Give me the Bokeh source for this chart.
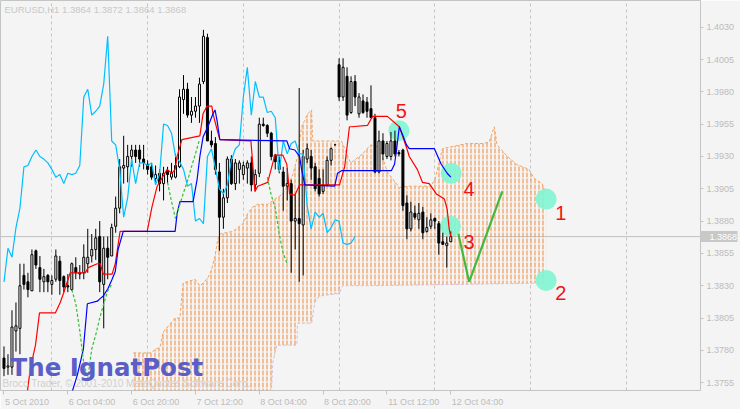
import numpy as np
from bokeh.plotting import figure
from bokeh.models import Range1d, FixedTicker, Label, Span, PrintfTickFormatter, LinearAxis
from bokeh.core.properties import value
from bokeh.embed import file_html
from bokeh.resources import INLINE

# ---------------- data (EURUSD H1, bar index 0 = 5 Oct 2010 12:00) ----------------
opens = [1.3774,1.3767,1.3767,1.3795,1.3797,1.3838,1.3833,1.3826,1.3857,1.3844,
         1.3833,1.3838,1.3831,1.3835,1.3849,1.3837,1.3830,1.3827,1.3844,1.3839,
         1.3840,1.3847,1.3853,1.3858,1.3868,1.3831,1.3859,1.3853,1.3876,1.3890,
         1.3921,1.3922,1.3930,1.3935,1.3935,1.3928,1.3924,1.3922,1.3913,1.3917,
         1.3909,1.3919,1.3914,1.3914,1.3922,1.3974,1.3982,1.3962,1.3965,1.3969,
         1.3988,1.4022,1.3942,1.3940,1.3918,1.3883,1.3898,1.3928,1.3909,1.3920,
         1.3916,1.3921,1.3925,1.3908,1.3917,1.3955,1.3954,1.3948,1.3931,1.3927,
         1.3918,1.3907,1.3909,1.3880,1.3882,1.3877,1.3928,1.3930,1.3922,1.3913,
         1.3903,1.3908,1.3927,1.3939,1.4001,1.3976,1.3992,1.3964,1.3988,1.3963,
         1.3973,1.3972,1.3967,1.3960,1.3918,1.3942,1.3930,1.3930,1.3942,1.3933,
         1.3935,1.3894,1.3874,1.3886,1.3881,1.3887,1.3872,1.3876,1.3882,1.3878,
         1.3864,1.3861,1.3864]
highs = [1.3783,1.3777,1.3811,1.3817,1.3847,1.3847,1.3840,1.3858,1.3858,1.3853,
         1.3843,1.3839,1.3838,1.3858,1.3853,1.3838,1.3839,1.3848,1.3852,1.3846,
         1.3862,1.3874,1.3870,1.3874,1.3880,1.3868,1.3868,1.3878,1.3899,1.3928,
         1.3946,1.3939,1.3939,1.3939,1.3939,1.3939,1.3927,1.3925,1.3923,1.3920,
         1.3922,1.3922,1.3925,1.3932,1.3982,1.3993,1.3987,1.3976,1.3976,1.3991,
         1.4028,1.4025,1.3950,1.3945,1.3925,1.3905,1.3930,1.3931,1.3928,1.3927,
         1.3926,1.3927,1.3930,1.3920,1.3960,1.3960,1.3955,1.3949,1.3932,1.3930,
         1.3922,1.3921,1.3912,1.3901,1.3983,1.3935,1.3940,1.3935,1.3925,1.3920,
         1.3920,1.3930,1.3937,1.3939,1.4006,1.4006,1.3999,1.3992,1.3993,1.3979,
         1.3978,1.3976,1.3985,1.3963,1.3950,1.3948,1.3942,1.3949,1.3950,1.3935,
         1.3936,1.3900,1.3895,1.3892,1.3894,1.3891,1.3883,1.3886,1.3883,1.3880,
         1.3871,1.3868,1.3872]
lows = [1.3760,1.3761,1.3761,1.3779,1.3777,1.3827,1.3821,1.3826,1.3843,1.3825,
        1.3825,1.3825,1.3823,1.3833,1.3823,1.3825,1.3825,1.3826,1.3835,1.3835,
        1.3835,1.3840,1.3848,1.3850,1.3825,1.3797,1.3835,1.3853,1.3871,1.3886,
        1.3909,1.3910,1.3922,1.3925,1.3922,1.3920,1.3916,1.3912,1.3910,1.3903,
        1.3896,1.3909,1.3912,1.3913,1.3921,1.3963,1.3960,1.3956,1.3960,1.3956,
        1.3986,1.3942,1.3937,1.3916,1.3857,1.3874,1.3894,1.3908,1.3904,1.3909,
        1.3912,1.3909,1.3903,1.3903,1.3914,1.3953,1.3945,1.3927,1.3920,1.3917,
        1.3888,1.3896,1.3840,1.3858,1.3833,1.3838,1.3925,1.3912,1.3903,1.3899,
        1.3901,1.3907,1.3923,1.3939,1.3973,1.3973,1.3958,1.3963,1.3969,1.3960,
        1.3963,1.3960,1.3960,1.3917,1.3917,1.3927,1.3928,1.3927,1.3930,1.3930,
        1.3888,1.3866,1.3872,1.3881,1.3874,1.3866,1.3871,1.3874,1.3874,1.3854,
        1.3862,1.3844,1.3864]
closes = [1.3766,1.3768,1.3798,1.3799,1.3830,1.3831,1.3827,1.3854,1.3846,1.3835,
          1.3837,1.3833,1.3834,1.3853,1.3834,1.3829,1.3829,1.3847,1.3840,1.3840,
          1.3852,1.3852,1.3858,1.3867,1.3833,1.3859,1.3852,1.3875,1.3890,1.3922,
          1.3923,1.3930,1.3935,1.3930,1.3928,1.3925,1.3920,1.3914,1.3916,1.3909,
          1.3917,1.3916,1.3917,1.3923,1.3976,1.3982,1.3962,1.3965,1.3969,1.3986,
          1.4023,1.3942,1.3939,1.3920,1.3883,1.3898,1.3928,1.3909,1.3925,1.3925,
          1.3923,1.3925,1.3908,1.3916,1.3955,1.3954,1.3948,1.3930,1.3926,1.3920,
          1.3907,1.3909,1.3880,1.3882,1.3878,1.3930,1.3936,1.3921,1.3905,1.3901,
          1.3908,1.3927,1.3936,1.3939,1.3976,1.3999,1.3962,1.3988,1.3976,1.3976,
          1.3964,1.3965,1.3960,1.3918,1.3942,1.3932,1.3940,1.3942,1.3932,1.3932,
          1.3892,1.3874,1.3887,1.3883,1.3886,1.3871,1.3875,1.3881,1.3880,1.3863,
          1.3862,1.3863,1.3868]

chikou_shift = 24

# Tenkan-sen (red) read as (bar, price) points
tenkan_x = [5.9,6.6,7.9,8.9,12.9,14.1,14.9,16.6,20.4,21.1,23.4,24.1,24.9,27.1,27.9,29.1,35.9,37.1,38.4,
            40.9,42.1,42.9,43.4,44.6,49.1,49.9,50.9,52.1,52.4,53.4,54.1,61.9,62.9,63.6,66.1,67.9,69.9,
            70.9,71.6,72.9,74.1,84.1,85.4,86.6,87.1,91.1,92.4,96.1,99.1,100.9,101.6,103.6,104.9,106.6,
            108.4,110.4,111.1,111.6,112.0]
tenkan_y = [1.3749,1.3766,1.3784,1.3809,1.3809,1.3817,1.3824,1.3840,1.3840,1.3844,1.3847,1.3847,1.3839,
            1.3839,1.3847,1.3872,1.3872,1.3891,1.3907,1.3920,1.3917,1.3920,1.3930,1.3943,1.3946,1.3963,
            1.3969,1.3969,1.3963,1.3951,1.3943,1.3942,1.3903,1.3907,1.3910,1.3931,1.3931,1.3924,1.3901,
            1.3900,1.3908,1.3908,1.3922,1.3953,1.3953,1.3954,1.3961,1.3961,1.3953,1.3937,1.3930,1.3920,
            1.3910,1.3909,1.3901,1.3897,1.3889,1.3874,1.3868]

# Kijun-sen (blue)
kijun_x = [17.1,18.4,19.9,20.9,23.4,24.1,24.9,26.1,27.1,27.9,28.6,29.9,42.9,43.4,44.1,47.4,48.4,49.1,
           49.9,51.1,52.4,52.9,53.4,54.1,70.9,71.6,72.9,74.1,74.6,75.4,82.9,83.6,84.6,97.1,97.9,98.4,
           99.1,99.9,100.9,101.6,107.9,109.6,111.1,112.0]
kijun_y = [1.3748,1.3761,1.3781,1.3816,1.3818,1.3820,1.3822,1.3828,1.3835,1.3841,1.3858,1.3872,1.3872,
           1.3886,1.3895,1.3895,1.3912,1.3930,1.3945,1.3953,1.3963,1.3966,1.3958,1.3943,1.3942,1.3936,
           1.3935,1.3930,1.3920,1.3908,1.3907,1.3917,1.3919,1.3919,1.3924,1.3935,1.3953,1.3947,1.3939,
           1.3936,1.3936,1.3924,1.3917,1.3914]

# Senkou span A (sandy brown) and span B (thistle), shifted forward
span_a_x = [32.4,37.1,37.9,39.1,39.9,42.9,44.1,44.9,47.9,49.1,49.9,51.1,52.1,52.9,53.6,54.1,57.4,59.9,
            61.1,62.4,63.6,66.1,67.9,69.9,71.6,72.4,73.6,74.6,75.4,76.1,77.1,77.4,84.6,86.9,89.9,91.9,
            94.1,96.1,99.1,101.1,107.1,108.1,109.9,115.9,119.9,121.6,122.9,123.6,125.9,128.4,131.6,
            132.9,134.9,135.9]
span_a_y = [1.3778,1.3778,1.3781,1.3782,1.3794,1.3805,1.3805,1.3832,1.3835,1.3830,1.3832,1.3836,1.3843,
            1.3853,1.3866,1.3870,1.3872,1.3878,1.3886,1.3891,1.3893,1.3893,1.3897,1.3901,1.3910,1.3916,
            1.3930,1.3953,1.3958,1.3963,1.3966,1.3942,1.3942,1.3925,1.3932,1.3939,1.3937,1.3918,1.3906,
            1.3907,1.3907,1.3913,1.3936,1.3940,1.3940,1.3941,1.3953,1.3939,1.3931,1.3924,1.3920,1.3913,
            1.3909,1.3901]
span_b_x = [32.4,66.5,67.1,67.4,68.4,73.4,73.6,77.1,77.9,79.1,84.1,84.9,91.1,135.9]
span_b_y = [1.3740,1.3740,1.3752,1.3771,1.3784,1.3784,1.3801,1.3801,1.3817,1.3822,1.3824,1.3830,1.3830,
            1.3832]

# green dashed helper lines
green_dash_x = [[17,18,19,20,21,22,23,24,25,26,27],
                [41,42,43,44,45,46,47,48,49],
                [66,67,68,69,70,71]]
green_dash_y = [[1.3827,1.3816,1.3795,1.3770,1.3758,1.3781,1.3792,1.3805,1.3816,1.3826,1.3831],
                [1.3910,1.3895,1.3882,1.3892,1.3902,1.3911,1.3922,1.3932,1.3943],
                [1.3914,1.3900,1.3890,1.3870,1.3855,1.3847]]

# green forecast "V"
forecast_x = [113.9, 116.6, 124.9]
forecast_y = [1.3870, 1.3833, 1.3903]

# marked points and their numbers
mark_x = [99.0, 112.1, 111.9, 135.9, 135.9]
mark_y = [1.3950, 1.3917, 1.3876, 1.3897, 1.3834]
num_x = [99.6, 116.6, 116.6, 139.6, 139.6]
num_y = [1.3965, 1.3905, 1.3864, 1.3886, 1.3824]
num_text = ["5", "4", "3", "1", "2"]

day_grid = [12, 36, 60, 84, 108, 132, 156]
time_ticks = [0, 16, 32, 48, 64, 80, 96, 112]
time_labels = ["5 Oct 2010", "6 Oct 04:00", "6 Oct 20:00", "7 Oct 12:00",
               "8 Oct 04:00", "8 Oct 20:00", "11 Oct 12:00", "12 Oct 04:00"]
price_ticks = [1.3755, 1.3780, 1.3805, 1.3830, 1.3855, 1.3880, 1.3905, 1.3930,
               1.3955, 1.3980, 1.4005, 1.4030]

# ---------------- figure ----------------
BG = "#f4f4f4"
GRAY = "#c4c4c4"
TXT = "#bcbcbc"
FONT = "Liberation Sans"
W, H = 740, 409
RIGHT, BOTTOM = 40, 17
X0, X1 = -0.875, 174.6
last = closes[-1]
BOX_OUT = 37          # length of the grey price box
LABEL_GAP = 6         # distance of the price labels from the chart border

p = figure(width=W, height=H,
           x_range=Range1d(X0, X1), y_range=Range1d(1.37489, 1.40507),
           output_backend="svg", toolbar_location=None,
           x_axis_location="below", y_axis_location="right",
           min_border_left=0, min_border_top=0, min_border_right=RIGHT, min_border_bottom=BOTTOM,
           background_fill_color=BG, border_fill_color=BG,
           outline_line_color=GRAY, outline_line_width=1)

p.ygrid.visible = False
p.xgrid.ticker = FixedTicker(ticks=day_grid)
p.xgrid.grid_line_color = GRAY
p.xgrid.grid_line_dash = "3 3"

ya = p.yaxis[0]
ya.ticker = FixedTicker(ticks=price_ticks, minor_ticks=[last])
ya.formatter = PrintfTickFormatter(format="%.4f")
ya.axis_line_color = None
ya.axis_label_standoff = 0
ya.major_tick_line_color = GRAY
ya.major_tick_out = 3
ya.major_tick_in = 0
# the minor tick is drawn as the grey price box
ya.minor_tick_line_color = "#c8c8c8"
ya.minor_tick_line_width = 11
ya.minor_tick_out = BOX_OUT
ya.minor_tick_in = 0
ya.major_label_text_color = TXT
ya.major_label_text_font = FONT
ya.major_label_text_font_size = "9px"
ya.major_label_standoff = LABEL_GAP - BOX_OUT

# white price text on the box
ya2 = LinearAxis(ticker=FixedTicker(ticks=[last]), formatter=PrintfTickFormatter(format="%.4f"),
                 axis_line_color=None, major_tick_line_color=None, minor_tick_line_color=None,
                 major_tick_out=0, major_tick_in=0, major_label_standoff=-28,
                 major_label_text_color="white", major_label_text_font=FONT,
                 major_label_text_font_size="9px", axis_label_standoff=0)
p.add_layout(ya2, "right")

# bottom axis: tick marks (minor ticks) at the bar times, labels start at their tick
cw = {" ": 0.278, ":": 0.278, "O": 0.778, "c": 0.5, "t": 0.278}
px_per_bar = (W - RIGHT) / (X1 - X0)
label_w = [sum(cw.get(ch, 0.556) for ch in s) * 9 for s in time_labels]
label_pos = [round(t + (w / 2 + 1) / px_per_bar, 2) for t, w in zip(time_ticks, label_w)]
xa = p.xaxis[0]
xa.ticker = FixedTicker(ticks=label_pos, minor_ticks=time_ticks)
xa.major_label_overrides = {lp: s for lp, s in zip(label_pos, time_labels)}
xa.axis_line_color = None
xa.axis_label_standoff = 0
xa.major_tick_line_color = None
xa.major_tick_out = 4
xa.major_tick_in = 0
xa.minor_tick_line_color = GRAY
xa.minor_tick_out = 4
xa.minor_tick_in = 0
xa.major_label_standoff = 2
xa.major_label_text_color = TXT
xa.major_label_text_font = FONT
xa.major_label_text_font_size = "9px"

# current price line
p.add_layout(Span(location=last, dimension="width", line_color="#c0c0c0",
                  line_width=1, level="underlay"))

# cloud hatch (vertical dashed look)
cloud_x = span_a_x + span_b_x[::-1]
cloud_y = span_a_y + span_b_y[::-1]
p.patch(cloud_x, cloud_y, fill_alpha=0, line_alpha=0,
        hatch_pattern="|", hatch_scale=4, hatch_weight=1.2, hatch_color="#ee9a58", hatch_alpha=1.0)
p.patch(cloud_x, cloud_y, fill_alpha=0, line_alpha=0,
        hatch_pattern="-", hatch_scale=6, hatch_weight=1.2, hatch_color=BG)
p.line(span_a_x, span_a_y, line_color="#f4a460", line_dash="3 2", line_width=1)
p.line(span_b_x, span_b_y, line_color="#d8bfd8", line_dash="3 2", line_width=1)

# marks
p.scatter(mark_x, mark_y, size=21, marker="circle", fill_color="#7ff5d2", line_color=None, fill_alpha=0.9)

# candles
o = np.array(opens); h = np.array(highs); l = np.array(lows); c = np.array(closes)
idx = np.arange(len(o))
up = c >= o
p.segment(idx, h, idx, l, line_color="black", line_width=1)
p.vbar(idx[up], width=0.5, top=c[up], bottom=o[up], fill_color="white", line_color="black", line_width=1)
p.vbar(idx[~up], width=0.5, top=o[~up], bottom=c[~up], fill_color="black", line_color="black", line_width=1)

# ichimoku lines
p.line(idx[chikou_shift:] - chikou_shift, c[chikou_shift:], line_color="#00bfff", line_width=1.2)
p.line(tenkan_x, tenkan_y, line_color="#ff0000", line_width=1.2)
p.line(kijun_x, kijun_y, line_color="#0000ff", line_width=1.2)
p.multi_line(green_dash_x, green_dash_y, line_color="#33c033", line_dash="3 2", line_width=1.2)
p.line(forecast_x, forecast_y, line_color="#44b83c", line_width=2.2)

p.text(num_x, num_y, text=num_text, text_color="#f01414", text_font=value(FONT),
       text_font_size="20px", text_align="center", text_baseline="middle")

# texts
title = f"EURUSD,H1  {opens[-1]:.4f} {highs[-1]:.4f} {lows[-1]:.4f} {closes[-1]:.4f}"
p.add_layout(Label(x=4, y=1.40507, x_units="screen", y_units="data", y_offset=-3,
                   text=title, text_font=FONT, text_font_size="9.5px",
                   text_color="#c8c8c8", text_baseline="top"))
p.add_layout(Label(x=2, y=2, x_units="screen", y_units="screen",
                   text="Broco Trader, \u00a9 2001-2010 MetaQuotes Software Corp.",
                   text_font=FONT, text_font_size="10px", text_color="#d0d0d0"))
p.add_layout(Label(x=10, y=9, x_units="screen", y_units="screen", text="The IgnatPost",
                   text_font="DejaVu Sans", text_font_style="bold", text_font_size="24.5px",
                   text_color="#5b5ec6"))

open("out.html", "w").write(file_html(p, INLINE))
